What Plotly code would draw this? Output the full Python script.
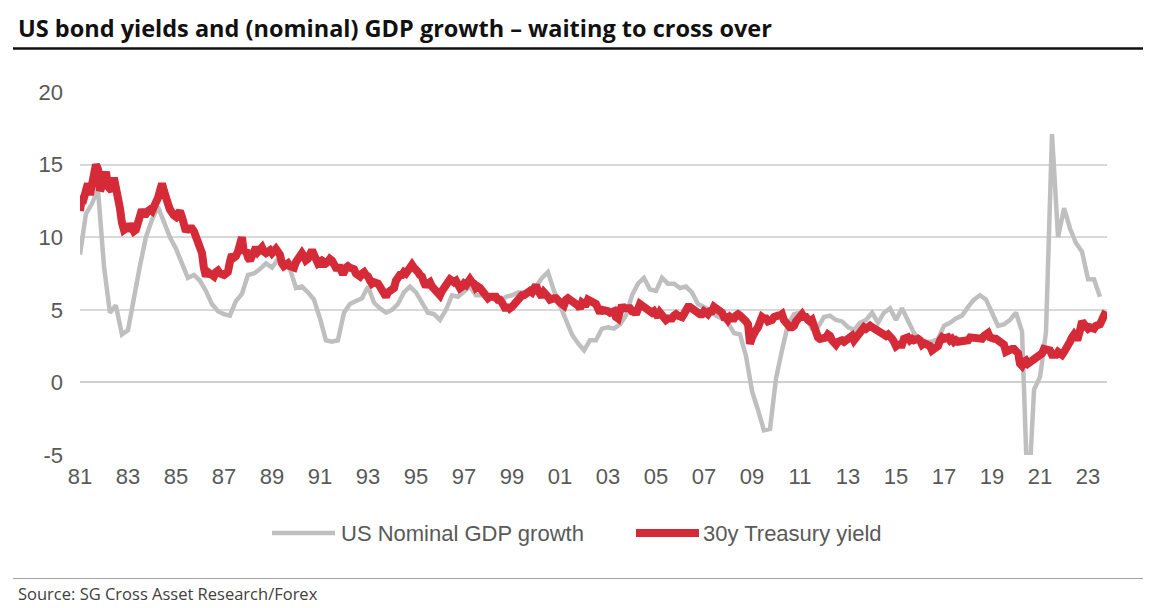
import pandas as pd
import plotly.graph_objects as go

# US nominal GDP growth, % y/y, quarterly (first point = 1980Q4, plotted at quarter end)
gdp_growth = [
	8.8, 11.6, 12.3, 13.3,
	8.0, 4.8, 5.3, 3.3,
	3.6, 6.0, 8.0, 10.0,
	11.2, 12.1, 11.0, 10.0,
	9.2, 8.2, 7.2, 7.4,
	7.0, 6.3, 5.4, 4.9,
	4.7, 4.6, 5.6, 6.1,
	7.4, 7.5, 7.8, 8.2,
	7.9, 8.5, 8.1, 7.8,
	6.5, 6.6, 6.2, 5.7,
	4.4, 2.9, 2.8, 2.9,
	4.8, 5.4, 5.6, 5.8,
	6.6, 5.5, 5.1, 4.8,
	5.0, 5.4, 6.2, 6.6,
	6.2, 5.5, 4.8, 4.7,
	4.3, 5.0, 6.0, 5.9,
	6.3, 6.6, 6.0, 6.0,
	6.0, 5.7, 5.5, 5.9,
	6.0, 6.2, 6.2, 6.3,
	6.6, 7.2, 7.6, 6.3,
	5.3, 4.2, 3.3, 2.7,
	2.2, 2.9, 2.9, 3.7,
	3.8, 3.7, 4.0, 4.6,
	6.0, 6.8, 7.2, 6.4,
	6.3, 7.2, 6.8, 6.8,
	6.5, 6.6, 6.2, 5.4,
	5.2, 4.9, 4.6, 4.4,
	4.1, 3.4, 3.3, 1.8,
	-0.6, -1.9, -3.3, -3.2,
	0.3, 2.2, 4.0, 4.7,
	4.8, 4.5, 3.7, 3.8,
	4.5, 4.6, 4.3, 4.2,
	3.8, 3.6, 4.1, 4.3,
	4.8, 4.1, 4.8, 5.1,
	4.3, 5.1, 4.3, 3.4,
	2.9, 2.8, 2.8, 3.0,
	3.9, 4.1, 4.4, 4.6,
	5.2, 5.7, 6.0, 5.7,
	4.8, 3.9, 4.0, 4.3,
	4.8, 3.5, -8.5, -0.5,
	0.4, 3.5, 17.1, 10.0,
	12.0, 10.6, 9.6, 9.0,
	7.1, 7.1, 5.9,
]

# 30y Treasury yield, %, monthly from Jan 1981
yield_30y = [
	11.8, 12.8, 12.7, 13.3, 13.7, 12.9, 13.6, 14.2, 15.0, 14.7, 13.2, 13.5,  # 81
	14.3, 14.5, 13.5, 13.4, 13.2, 14.1, 13.5, 12.7, 12.0, 11.0, 10.5, 10.6,  # 82
	10.6, 10.9, 10.6, 10.4, 10.5, 10.9, 11.5, 11.9, 11.6, 11.6, 11.8, 11.9,  # 83
	11.8, 12.0, 12.4, 12.7, 13.5, 13.7, 13.2, 12.5, 12.3, 11.9, 11.6, 11.5,  # 84
	11.4, 11.6, 11.8, 11.4, 11.0, 10.4, 10.6, 10.6, 10.6, 10.4, 10.0, 9.5,  # 85
	9.3, 8.9, 7.9, 7.3, 7.6, 7.5, 7.3, 7.3, 7.6, 7.7, 7.5, 7.4,  # 86
	7.4, 7.5, 7.6, 8.3, 8.8, 8.6, 8.7, 9.0, 9.7, 10.0, 8.9, 9.1,  # 87
	8.6, 8.4, 8.7, 9.0, 9.3, 9.0, 9.2, 9.3, 9.0, 8.9, 9.0, 9.1,  # 88
	8.9, 9.1, 9.2, 9.0, 8.8, 8.2, 8.0, 8.1, 8.2, 8.0, 7.9, 7.9,  # 89
	8.3, 8.5, 8.6, 8.9, 8.7, 8.4, 8.5, 8.9, 9.1, 8.8, 8.5, 8.2,  # 90
	8.3, 8.0, 8.3, 8.2, 8.3, 8.5, 8.4, 8.1, 7.9, 7.9, 7.9, 7.6,  # 91
	7.6, 7.9, 8.0, 7.9, 7.9, 7.8, 7.5, 7.4, 7.3, 7.5, 7.6, 7.4,  # 92
	7.3, 7.0, 6.8, 6.9, 6.9, 6.8, 6.6, 6.3, 6.0, 5.9, 6.2, 6.3,  # 93
	6.3, 6.5, 7.0, 7.3, 7.4, 7.4, 7.6, 7.5, 7.7, 7.9, 8.1, 7.9,  # 94
	7.8, 7.6, 7.4, 7.3, 6.9, 6.6, 6.8, 6.9, 6.6, 6.4, 6.2, 6.0,  # 95
	6.0, 6.3, 6.6, 6.8, 6.9, 7.1, 7.0, 6.9, 7.0, 6.8, 6.5, 6.6,  # 96
	6.8, 6.7, 7.0, 7.1, 6.9, 6.8, 6.5, 6.6, 6.5, 6.3, 6.1, 6.0,  # 97
	5.8, 5.9, 5.9, 5.9, 5.9, 5.7, 5.7, 5.5, 5.2, 5.0, 5.3, 5.1,  # 98
	5.2, 5.4, 5.6, 5.6, 5.8, 6.0, 6.0, 6.1, 6.1, 6.3, 6.2, 6.4,  # 99
	6.7, 6.3, 6.1, 5.9, 6.2, 5.9, 5.9, 5.7, 5.8, 5.8, 5.8, 5.5,  # 00
	5.5, 5.4, 5.3, 5.7, 5.8, 5.7, 5.6, 5.5, 5.5, 5.3, 5.1, 5.5,  # 01
	5.4, 5.4, 5.7, 5.6, 5.6, 5.5, 5.4, 5.1, 4.8, 5.0, 5.0, 4.9,  # 02
	4.9, 4.8, 4.8, 4.9, 4.5, 4.4, 4.9, 5.3, 5.1, 5.1, 5.1, 5.1,  # 03
	4.9, 4.9, 4.7, 5.2, 5.4, 5.3, 5.2, 5.1, 4.9, 4.8, 4.8, 4.9,  # 04
	4.7, 4.5, 4.8, 4.6, 4.4, 4.3, 4.4, 4.4, 4.4, 4.6, 4.7, 4.6,  # 05
	4.5, 4.5, 4.7, 5.1, 5.2, 5.2, 5.1, 5.0, 4.8, 4.8, 4.7, 4.7,  # 06
	4.9, 4.8, 4.7, 4.9, 4.9, 5.2, 5.1, 4.9, 4.8, 4.8, 4.5, 4.5,  # 07
	4.3, 4.5, 4.4, 4.4, 4.6, 4.7, 4.6, 4.5, 4.3, 4.2, 4.0, 2.65,  # 08
	3.1, 3.6, 3.6, 3.8, 4.2, 4.5, 4.4, 4.4, 4.2, 4.2, 4.3, 4.5,  # 09
	4.6, 4.6, 4.6, 4.7, 4.3, 4.1, 4.0, 3.8, 3.8, 3.9, 4.2, 4.4,  # 10
	4.5, 4.7, 4.5, 4.5, 4.3, 4.2, 4.3, 3.7, 3.2, 3.1, 3.0, 3.0,  # 11
	3.0, 3.1, 3.3, 3.2, 2.9, 2.7, 2.6, 2.8, 2.9, 2.9, 2.8, 2.9,  # 12
	3.1, 3.2, 3.2, 2.9, 3.1, 3.4, 3.6, 3.8, 3.8, 3.7, 3.8, 3.9,  # 13
	3.8, 3.7, 3.6, 3.5, 3.4, 3.4, 3.3, 3.2, 3.3, 3.0, 3.0, 2.8,  # 14
	2.5, 2.6, 2.6, 2.6, 3.0, 3.1, 3.1, 2.9, 3.0, 2.9, 3.0, 3.0,  # 15
	2.9, 2.6, 2.7, 2.6, 2.6, 2.5, 2.2, 2.3, 2.4, 2.5, 2.9, 3.1,  # 16
	3.0, 3.0, 3.1, 2.9, 3.0, 2.8, 2.9, 2.8, 2.8, 2.9, 2.8, 2.8,  # 17
	2.9, 3.1, 3.1, 3.1, 3.1, 3.1, 3.0, 3.0, 3.2, 3.3, 3.4, 3.1,  # 18
	3.0, 3.0, 3.0, 2.9, 2.8, 2.6, 2.6, 2.1, 2.2, 2.2, 2.3, 2.3,  # 19
	2.2, 2.0, 1.3, 1.15, 1.4, 1.5, 1.3, 1.4, 1.4, 1.6, 1.6, 1.7,  # 20
	1.8, 2.0, 2.3, 2.3, 2.3, 2.2, 1.9, 1.9, 1.9, 2.1, 1.9, 1.9,  # 21
	2.1, 2.3, 2.4, 2.8, 3.1, 3.3, 3.1, 3.1, 3.6, 4.2, 4.0, 3.7,  # 22
	3.7, 3.8, 3.8, 3.7, 3.9, 3.9, 4.0, 4.3, 4.5, 4.9,  # 23
]

tick_years = list(range(1981, 2024, 2))
tick_labels = ["%02d" % (y % 100) for y in tick_years]
y_ticks = [-5, 0, 5, 10, 15, 20]
y_labels = ["-5", "0", "5", "10", "15", "20"]

series_names = ["US Nominal GDP growth", "30y Treasury yield"]
GREY = "#bfbfbf"
RED = "#d52b38"

gdp_dates = pd.date_range("1981-01-01", periods=len(gdp_growth), freq="3MS")
yld_dates = pd.date_range("1981-01-01", periods=len(yield_30y), freq="MS")
tick_dates = [pd.Timestamp(y, 1, 1) for y in tick_years]
x_range = ["1981-01-01", "2023-10-16"]

# plot area in pixels
PL, PR, PT, PB = 80, 1107, 92, 455

def px_x(px):
	return (px - PL) / (PR - PL)

def px_y(py):
	return (PB - py) / (PB - PT)

fig = go.Figure()
fig.add_trace(go.Scatter(x=gdp_dates, y=gdp_growth, mode="lines", name=series_names[0],
	line=dict(color=GREY, width=4.5)))
fig.add_trace(go.Scatter(x=yld_dates, y=yield_30y, mode="lines", name=series_names[1],
	line=dict(color=RED, width=8)))

axis_font = dict(family="Liberation Sans, Arial", size=22, color="#595959")

fig.update_layout(
	width=1176, height=608,
	margin=dict(l=PL, r=1176 - PR, t=PT, b=608 - PB),
	paper_bgcolor="white", plot_bgcolor="white",
	showlegend=False,
	xaxis=dict(type="date", range=x_range, tickvals=tick_dates, ticktext=tick_labels,
		showgrid=False, zeroline=False, showline=False, ticks="",
		tickfont=axis_font, ticklabelstandoff=6),
	xaxis2=dict(type="date", range=x_range, tickvals=tick_dates, overlaying="x",
		anchor="free", position=0.2, side="bottom", showticklabels=False,
		ticks="outside", ticklen=7, tickwidth=1.5, tickcolor="#d0d0d0",
		showgrid=False, zeroline=False, showline=False),
	yaxis=dict(range=[-5, 20], tickvals=y_ticks, ticktext=y_labels, ticks="",
		showgrid=True, gridcolor="#d9d9d9", gridwidth=2,
		zeroline=True, zerolinecolor="#d0d0d0", zerolinewidth=2,
		showline=False, tickfont=axis_font, ticklabelstandoff=16),
)

shapes = [
	# title rule
	dict(type="line", xref="paper", yref="paper", x0=px_x(13), x1=px_x(1143),
		y0=px_y(48.5), y1=px_y(48.5), line=dict(color="#111111", width=2.5)),
	# source rule
	dict(type="line", xref="paper", yref="paper", x0=px_x(13), x1=px_x(1143),
		y0=px_y(578.5), y1=px_y(578.5), line=dict(color="#a6a6a6", width=1.2)),
	# legend keys
	dict(type="line", xref="paper", yref="paper", x0=px_x(272), x1=px_x(335),
		y0=px_y(533), y1=px_y(533), line=dict(color=GREY, width=4.5)),
	dict(type="line", xref="paper", yref="paper", x0=px_x(636), x1=px_x(699),
		y0=px_y(533), y1=px_y(533), line=dict(color=RED, width=8)),
]
for s in shapes:
	fig.add_shape(**s)

annots = [
	dict(x=px_x(16), y=px_y(28), text="<b>US bond yields and (nominal) GDP growth \u2013 waiting to cross over</b>",
		font=dict(family="Open Sans", size=23.5, color="#111111")),
	dict(x=px_x(339), y=px_y(533), text=series_names[0],
		font=dict(family="Liberation Sans, Arial", size=22, color="#595959")),
	dict(x=px_x(701), y=px_y(533), text=series_names[1],
		font=dict(family="Liberation Sans, Arial", size=22, color="#595959")),
	dict(x=px_x(16), y=px_y(593), text="Source: SG Cross Asset Research/Forex",
		font=dict(family="Open Sans", size=16.5, color="#404040")),
]
for a in annots:
	fig.add_annotation(xref="paper", yref="paper", xanchor="left", yanchor="middle",
		showarrow=False, **a)

# the page has a default 8px body margin; drop it so the figure sits at the top-left
fig.write_html("out.html", config={"displayModeBar": False},
	post_script="document.body.style.margin='0';")
